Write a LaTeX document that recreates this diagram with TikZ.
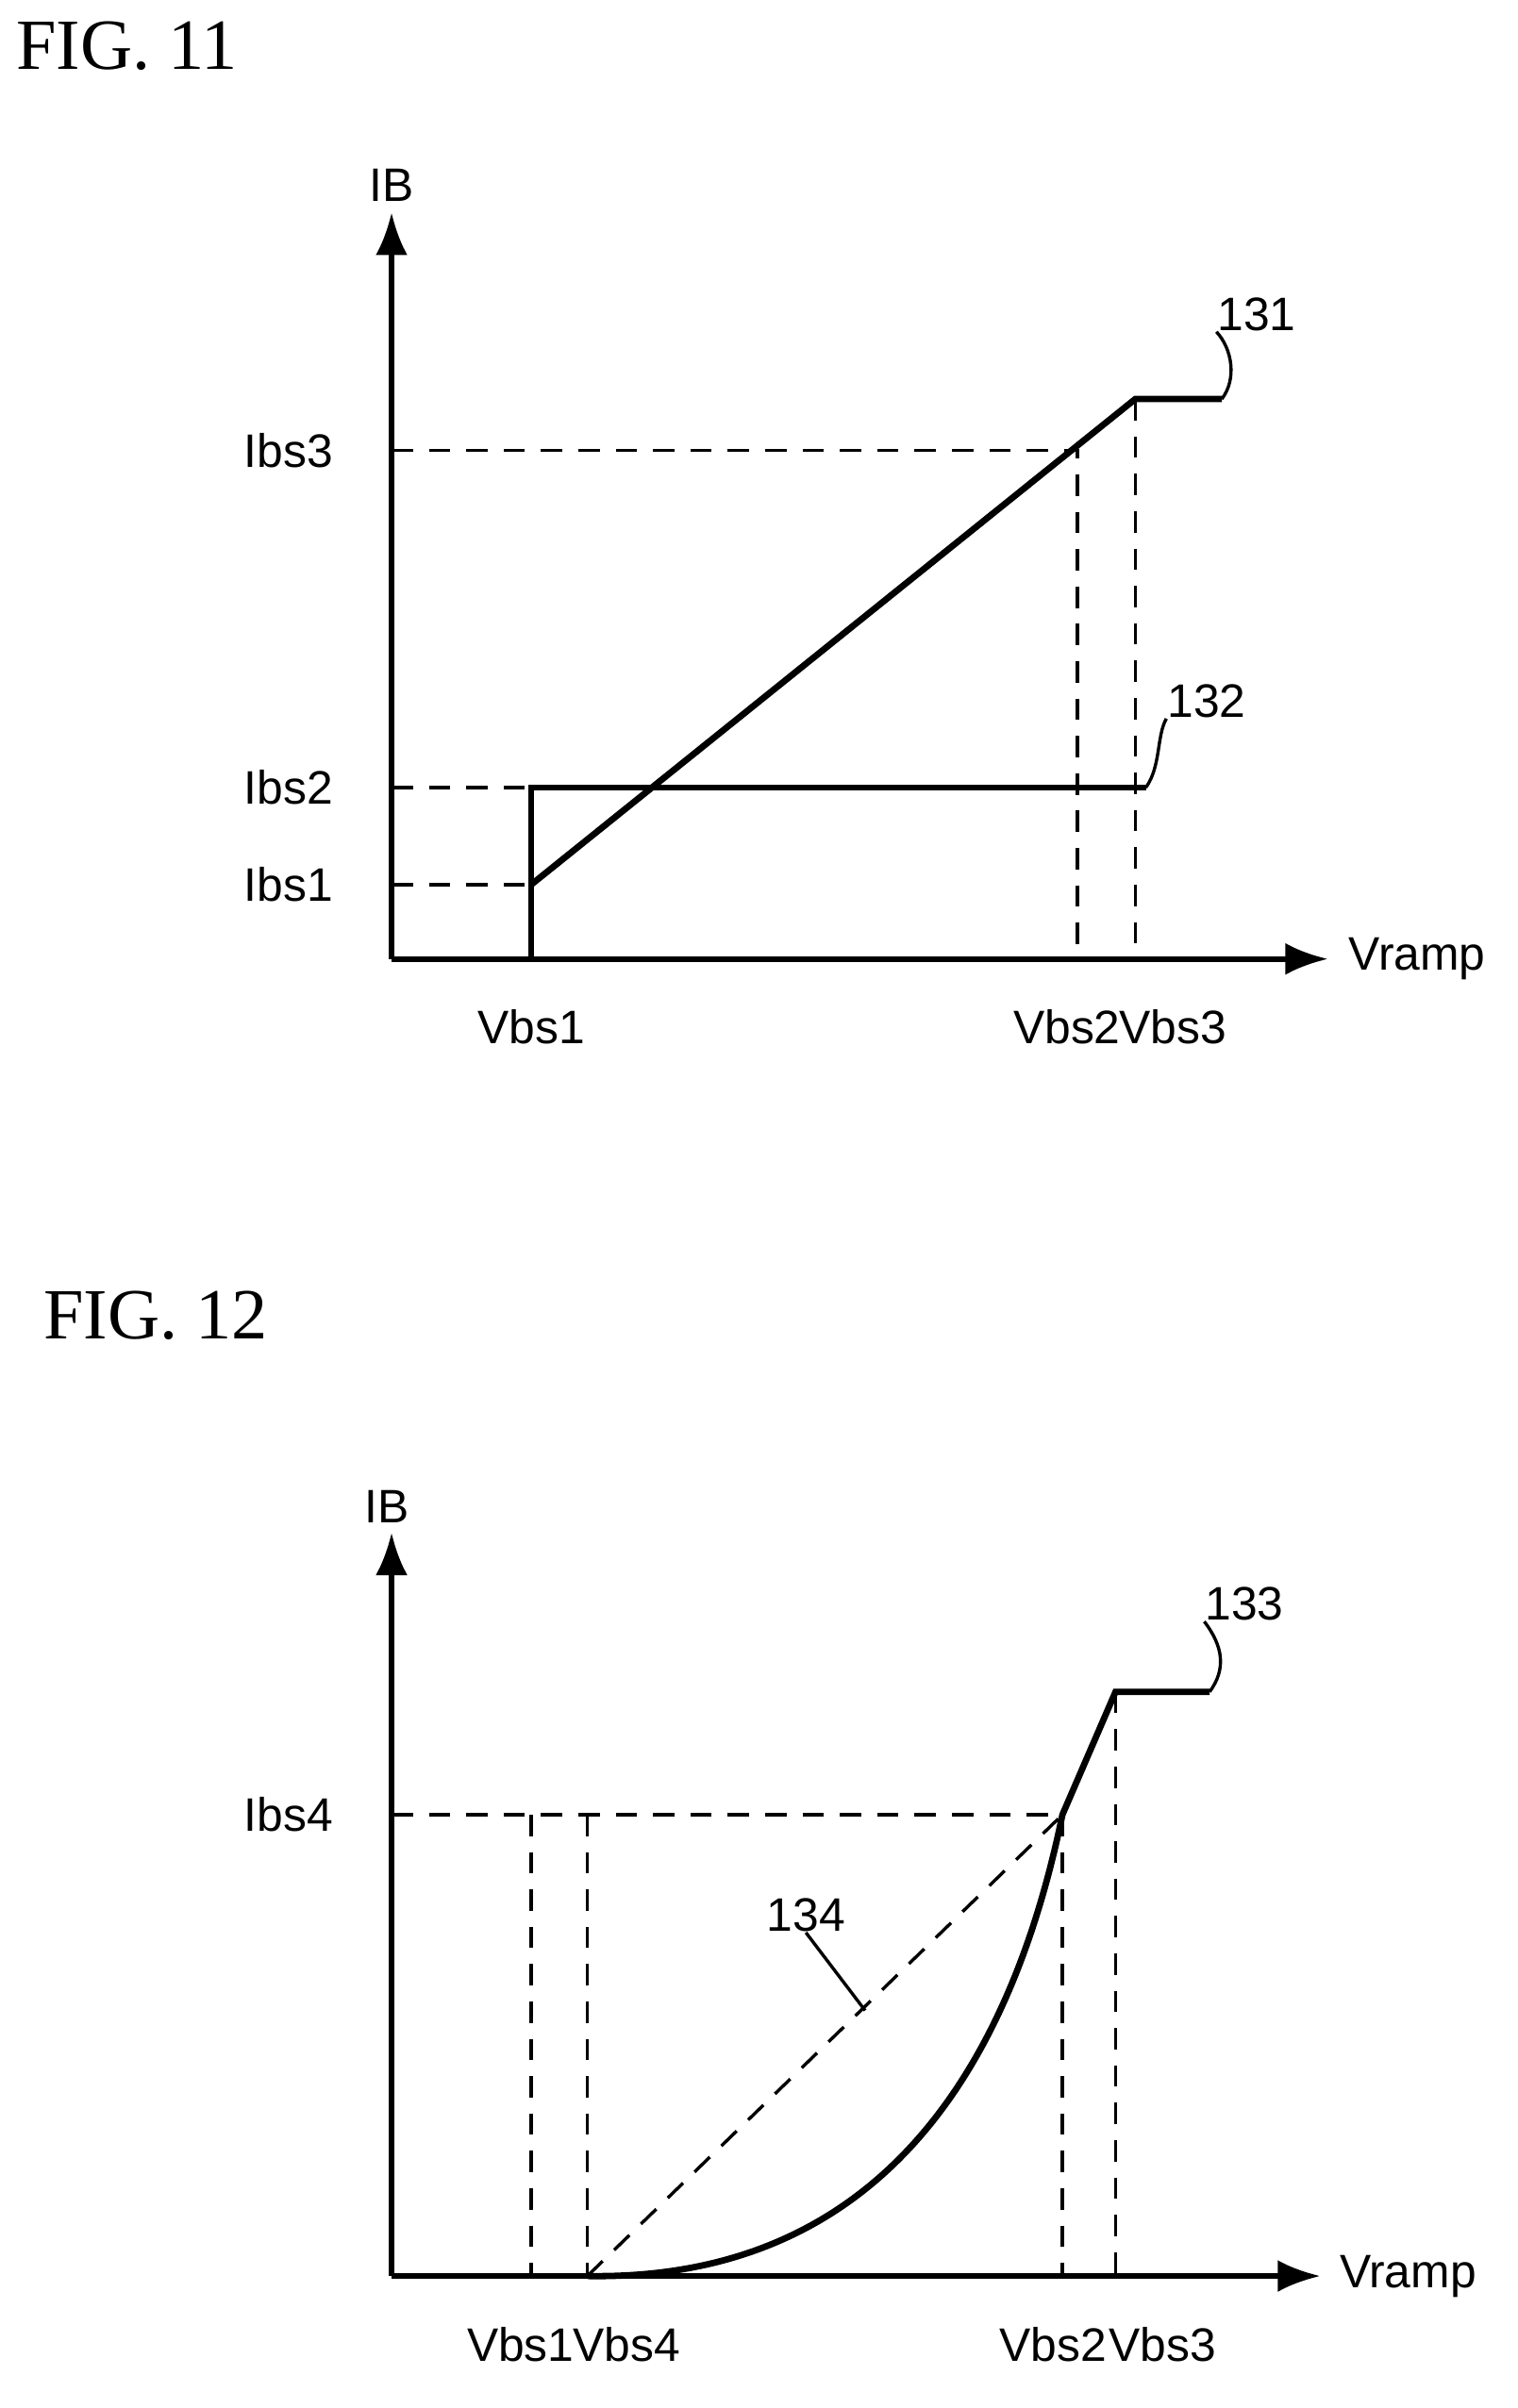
\documentclass[tikz,border=0pt]{standalone}
\usepackage{fontspec}
\setmainfont{Liberation Sans}
\newfontfamily\figfont{Liberation Serif}
\usetikzlibrary{arrows.meta}
\tikzset{
  axis/.style={line width=1pt,-{Latex[length=8pt,width=6pt]}},
  curve/.style={line width=1.2pt},
  guide/.style={line width=0.6pt,dash pattern=on 4pt off 3pt},
  lbl/.style={inner sep=0pt,font=\fontsize{8.8}{10}\selectfont},
  fig/.style={inner sep=0pt,anchor=west,font=\figfont\fontsize{13.5}{16}\selectfont}
}
\begin{document}
\begin{tikzpicture}[x=0.01cm,y=-0.01cm]
\useasboundingbox (0,0) rectangle (1000,1587);
% FIG. 11
\node[fig] (t11) at (10,30) {FIG. 11};
\coordinate (o1) at (258,632);
\coordinate (ytop1) at (258,140);
\coordinate (xend1) at (875,632);
\draw[axis] (o1) -- (ytop1);
\draw[axis] (o1) -- (xend1);
\node[lbl] (ib1) at (258,122) {IB};
\node[lbl,anchor=west] (vr1) at (888,632) {Vramp};
\node[lbl] (ibs3) at (190,297) {Ibs3};
\node[lbl] (ibs2) at (190,519) {Ibs2};
\node[lbl] (ibs1) at (190,583) {Ibs1};
\node[lbl] (vbs1a) at (350,677) {Vbs1};
\node[lbl] (vbs2a) at (703,677) {Vbs2};
\node[lbl] (vbs3a) at (773,677) {Vbs3};
\coordinate (a1) at (350,583);
\coordinate (a2) at (748,263);
\coordinate (a3) at (805,263);
\coordinate (b0) at (350,632);
\coordinate (b1) at (350,519);
\coordinate (b2) at (755,519);
\draw[curve] (a1) -- (a2) -- (a3);
\draw[curve] (b0) -- (b1) -- (b2);
\draw[guide] (258,297) -- (710,297) -- (710,632);
\draw[guide] (a2) -- (748,632);
\draw[guide] (258,519) -- (b1);
\draw[guide] (258,583) -- (a1);
\node[lbl] (n131) at (828,207) {131};
\node[lbl] (n132) at (795,462) {132};
\draw[line width=0.6pt] (a3) .. controls (815,250) and (812,230) .. (n131.south west);
\draw[line width=0.6pt] (b2) .. controls (765,505) and (762,485) .. (n132.south west);
% FIG. 12
\node[fig] (t12) at (28,867) {FIG. 12};
\coordinate (o2) at (258,1500);
\coordinate (ytop2) at (258,1010);
\coordinate (xend2) at (870,1500);
\draw[axis] (o2) -- (ytop2);
\draw[axis] (o2) -- (xend2);
\node[lbl] (ib2) at (255,993) {IB};
\node[lbl,anchor=west] (vr2) at (882,1500) {Vramp};
\node[lbl] (ibs4) at (190,1196) {Ibs4};
\node[lbl] (vbs1b) at (343,1545) {Vbs1};
\node[lbl] (vbs4b) at (413,1545) {Vbs4};
\node[lbl] (vbs2b) at (694,1545) {Vbs2};
\node[lbl] (vbs3b) at (766,1545) {Vbs3};
\coordinate (c0) at (387,1500);
\coordinate (c1) at (700,1196);
\coordinate (c2) at (735,1115);
\coordinate (c3) at (797,1115);
\draw[curve] (c0) .. controls (560,1503) and (660,1390) .. (c1) -- (c2) -- (c3);
\draw[guide] (258,1196) -- (c1);
\draw[guide] (350,1196) -- (350,1500);
\draw[guide] (387,1196) -- (c0);
\draw[guide] (c1) -- (700,1500);
\draw[guide] (c2) -- (735,1500);
\draw[guide] (c0) -- (c1);
\node[lbl] (n133) at (820,1057) {133};
\node[lbl] (n134) at (531,1262) {134};
\draw[line width=0.6pt] (c3) .. controls (808,1100) and (806,1085) .. (n133.south west);
\draw[line width=0.6pt] (570,1325) -- (n134.south);
\end{tikzpicture}
\end{document}
